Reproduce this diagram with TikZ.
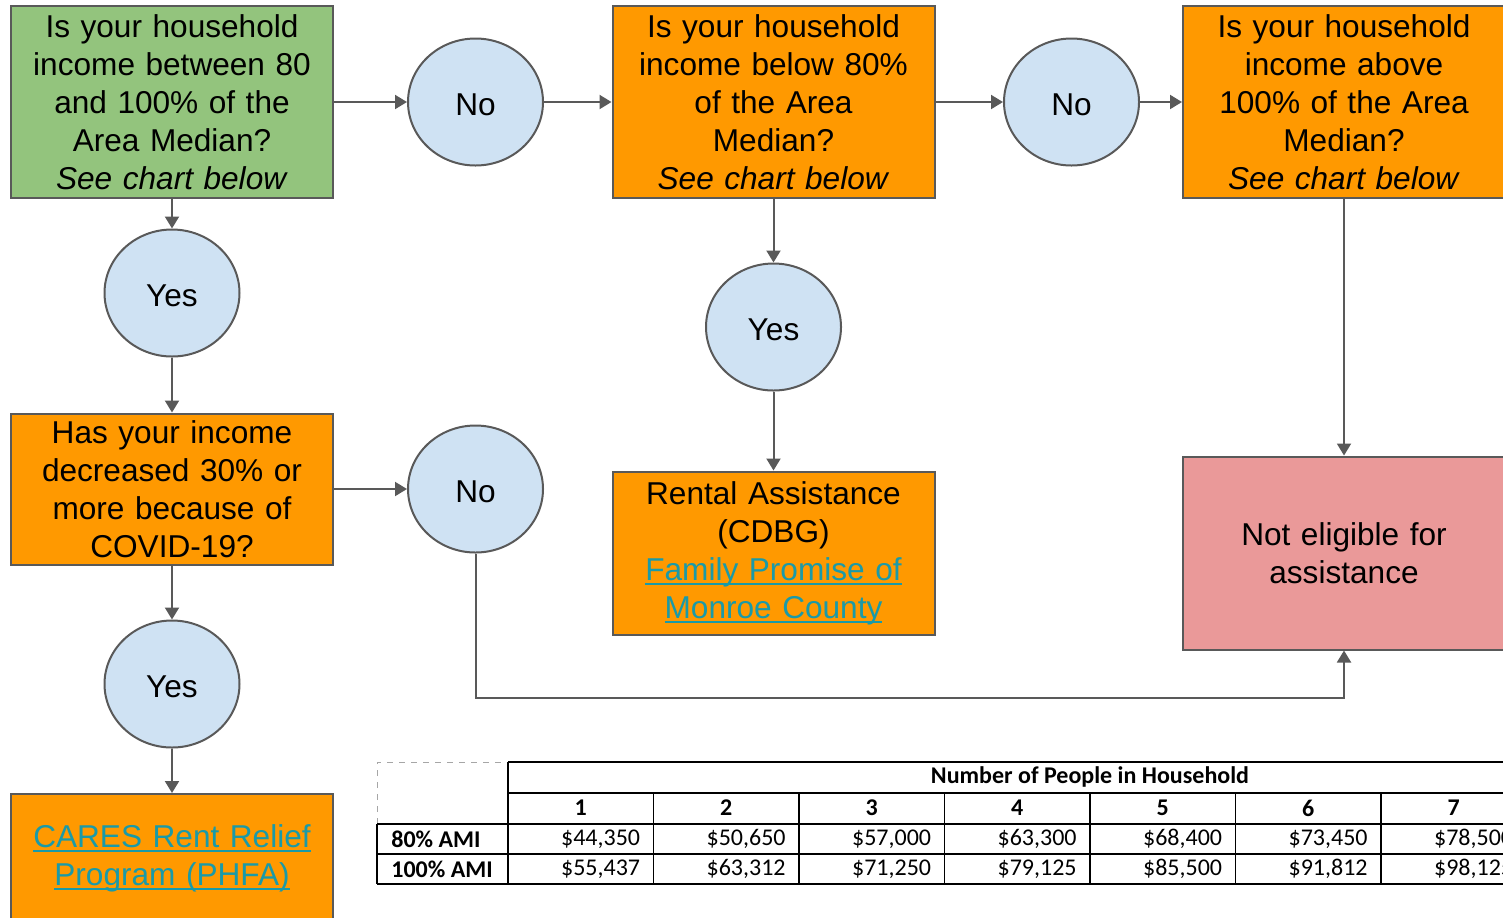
\documentclass[tikz,border=0pt]{standalone}
\usepackage{fontspec}
\setmainfont{Liberation Sans}
\newfontfamily\tabfont{Carlito}
\usetikzlibrary{shapes.geometric}
\usetikzlibrary{arrows.meta}

\definecolor{qgreen}{HTML}{93C47D}
\definecolor{qorange}{HTML}{FF9900}
\definecolor{ansblue}{HTML}{CFE2F3}
\definecolor{notpink}{HTML}{EA9999}
\definecolor{edgegrey}{HTML}{595959}
\definecolor{linkteal}{HTML}{1A9AA8}

\newcommand{\weblink}[1]{\textcolor{linkteal}{\setbox0\hbox{#1}\rlap{\rule[-2.6pt]{\wd0}{1pt}}\box0}}

\tikzset{
  box/.style={draw=edgegrey, line width=1pt, minimum width=161pt, minimum height=96pt,
    text width=152pt, align=center, inner sep=0pt, font=\fontsize{15.8}{19}\selectfont},
  answer/.style={ellipse, draw=edgegrey, fill=ansblue, line width=1pt, minimum width=67.5pt,
    minimum height=63.5pt, inner sep=0pt, text height=13pt, text depth=0pt,
    font=\fontsize{15.8}{19}\selectfont},
  arr/.style={draw=edgegrey, line width=1pt, -{Triangle[length=6pt,width=7pt]}},
  tabline/.style={draw=black, line width=0.9pt},
  tabtext/.style={font=\tabfont\fontsize{12}{14}\selectfont, inner sep=0pt},
  tabbold/.style={font=\tabfont\bfseries\fontsize{12}{14}\selectfont, inner sep=0pt}
}

\begin{document}
\begin{tikzpicture}[x=0.5pt, y=-0.5pt]
        \useasboundingbox (0,0) rectangle (1503,917);
        \clip (0,0) rectangle (1503,917);

        %questions
        \node[box, fill=qgreen] (q80to100) at (172,102) {Is your household\\income between 80\\and 100\% of the\\Area Median?\\\textit{See chart below}};
        \node[box, fill=qorange] (qbelow80) at (773.5,102) {Is your household\\income below 80\%\\of the Area\\Median?\\\textit{See chart below}};
        \node[box, fill=qorange] (qabove100) at (1344,102) {Is your household\\income above\\100\% of the Area\\Median?\\\textit{See chart below}};
        \node[box, fill=qorange, minimum height=75.5pt] (qdrop) at (172,489) {Has your income\\decreased 30\% or\\more because of\\COVID-19?};

        %answers
        \node[answer] (no1) at (475.5,102) {No};
        \node[answer] (no2) at (1071.5,102) {No};
        \node[answer] (yes1) at (172,293) {Yes};
        \node[answer] (yes2) at (773.5,327) {Yes};
        \node[answer] (no3) at (475.5,489) {No};
        \node[answer] (yes3) at (172,684) {Yes};

        %outcomes
        \node[box, fill=qorange, minimum height=81.5pt] (rental) at (773.5,553) {Rental Assistance\\(CDBG)\\\weblink{Family Promise of}\\\weblink{Monroe County}};
        \node[box, fill=notpink, minimum height=96.5pt] (noteligible) at (1344,553) {Not eligible for\\assistance};
        \node[box, fill=qorange, minimum height=64pt] (cares) at (172,858) {\weblink{CARES Rent Relief}\\\weblink{Program (PHFA)}};

        %connectors
        \draw[arr] (q80to100) -- (no1);
        \draw[arr] (no1) -- (qbelow80);
        \draw[arr] (qbelow80) -- (no2);
        \draw[arr] (no2) -- (qabove100);
        \draw[arr] (q80to100) -- (yes1);
        \draw[arr] (yes1) -- (qdrop);
        \draw[arr] (qdrop) -- (no3);
        \draw[arr] (qdrop) -- (yes3);
        \draw[arr] (yes3) -- (cares);
        \draw[arr] (qbelow80) -- (yes2);
        \draw[arr] (yes2) -- (rental);
        \draw[arr] (qabove100) -- (noteligible);
        \coordinate (detour) at (1344,698);
        \draw[arr] (no3.south) |- (detour) -- (noteligible.south);

        %income chart
        \draw[dashed, draw=black!35, line width=0.5pt] (377,824) |- (508,762);
        \draw[tabline] (508,762) -- (1720,762);
        \draw[tabline] (508,793) -- (1720,793);
        \draw[tabline] (377,824) -- (1720,824);
        \draw[tabline] (377,854) -- (1720,854);
        \draw[tabline] (377,884) -- (1720,884);
        \draw[tabline] (377,824) -- (377,884);
        \draw[tabline] (508,762) -- (508,884);
        \foreach \k in {1,...,8}
            \draw[tabline] ({508+145.5*\k},793) -- ({508+145.5*\k},884);

        \node[tabbold] (people) at (1090,777) {Number of People in Household};
        \node[tabbold, anchor=west] (ami80) at (391,839) {80\% AMI};
        \node[tabbold, anchor=west] (ami100) at (391,869) {100\% AMI};
        \foreach \k/\lo/\hi in {1/44{,}350/55{,}437, 2/50{,}650/63{,}312, 3/57{,}000/71{,}250,
                                4/63{,}300/79{,}125, 5/68{,}400/85{,}500, 6/73{,}450/91{,}812,
                                7/78{,}500/98{,}125}
        {
            \node[tabbold] (size\k) at ({508+145.5*(\k-0.5)},808) {\k};
            \node[tabtext, anchor=east] (lim80\k) at ({508+145.5*\k-13},839) {\$\lo};
            \node[tabtext, anchor=east] (lim100\k) at ({508+145.5*\k-13},869) {\$\hi};
        }

    \end{tikzpicture}
\end{document}
